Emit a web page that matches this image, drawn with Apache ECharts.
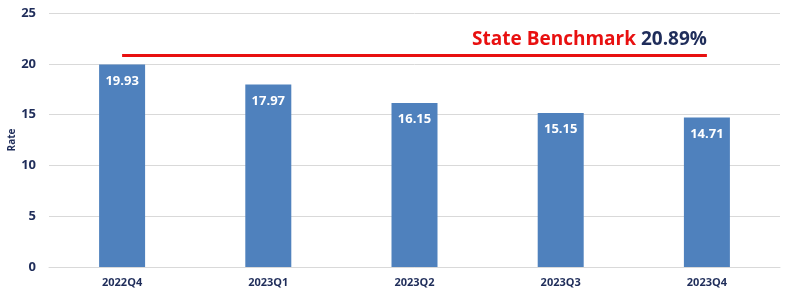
<!DOCTYPE html>
<html><head><meta charset="utf-8">
<script src="https://cdn.jsdelivr.net/npm/echarts@6/dist/echarts.min.js"></script>
<style>html,body{margin:0;padding:0;background:#fff}#c{width:787px;height:296px}</style>
</head><body><div id="c"></div>
<script>
const categories = ['2022Q4','2023Q1','2023Q2','2023Q3','2023Q4'];
const rates = [19.93, 17.97, 16.15, 15.15, 14.71];
const benchmark = 20.89;
const benchmarkLabel = 'State Benchmark';
const yTicks = [0,5,10,15,20,25];

const chart = echarts.init(document.getElementById('c'));
chart.setOption({
  animation: false,
  grid: {left: 49, right: 7, top: 13, bottom: 29, containLabel: false, outerBoundsMode: 'none'},
  xAxis: {
    type: 'category', data: categories,
    axisLine: {lineStyle: {color: '#d9d9d9', width: 1}},
    axisTick: {show: false},
    axisLabel: {color: '#1f2d5a', fontWeight: 'bold', fontSize: 11, fontFamily: 'Open Sans', margin: 10}
  },
  yAxis: {
    type: 'value', min: yTicks[0], max: yTicks[yTicks.length-1], interval: 5,
    name: 'Rate', nameLocation: 'middle', nameGap: 32, nameMoveOverlap: false,
    nameTextStyle: {color: '#1f2d5a', fontWeight: 'bold', fontSize: 10, fontFamily: 'Open Sans'},
    axisLine: {show: false}, axisTick: {show: false},
    splitLine: {lineStyle: {color: '#d9d9d9'}},
    axisLabel: {color: '#1f2d5a', fontWeight: 'bold', fontSize: 13, fontFamily: 'Open Sans', margin: 13}
  },
  series: [{
    type: 'bar', data: rates, barWidth: 46,
    itemStyle: {color: '#4f81bd'},
    label: {show: true, position: 'insideTop', distance: 10, color: '#fff', fontWeight: 'bold', fontSize: 13, fontFamily: 'Open Sans'},
    markLine: {
      silent: true, symbol: 'none',
      lineStyle: {color: '#e81010', width: 3, type: 'solid'},
      label: {
        show: true, position: 'insideEndTop', distance: [0, 6],
        formatter: () => '{a|' + benchmarkLabel + '\u00a0}{b|' + benchmark.toFixed(2) + '%}',
        rich: {
          a: {color: '#e81010', fontWeight: 'bold', fontSize: 19, fontFamily: 'Open Sans'},
          b: {color: '#1f2d5a', fontWeight: 'bold', fontSize: 19, fontFamily: 'Open Sans'}
        }
      },
      data: [[{coord: [categories[0], benchmark]}, {coord: [categories[categories.length-1], benchmark]}]]
    }
  }]
});
</script></body></html>
